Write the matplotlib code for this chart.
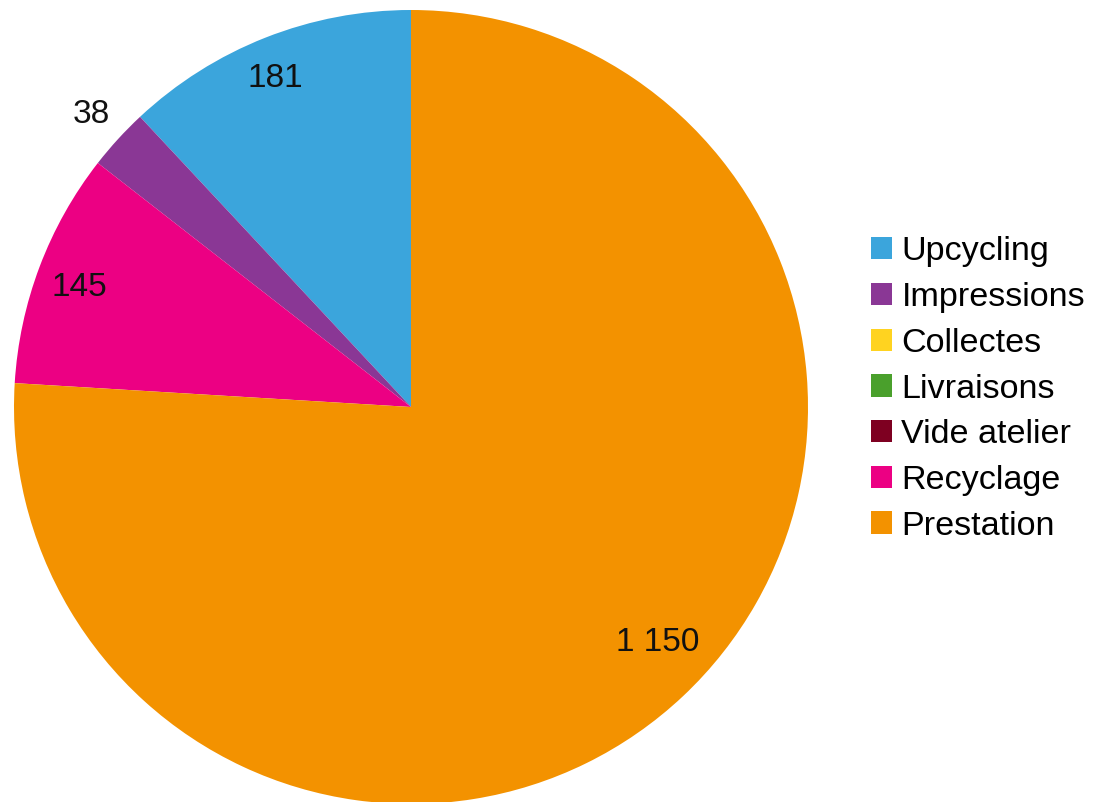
import numpy as np
import matplotlib
matplotlib.use('Agg')
import matplotlib.pyplot as plt
from matplotlib.patches import Patch

plt.rcParams['font.family'] = ['Liberation Sans', 'DejaVu Sans']

# Data
categories = ['Upcycling', 'Impressions', 'Collectes', 'Livraisons',
              'Vide atelier', 'Recyclage', 'Prestation']
values = [181, 38, 0, 0, 0, 145, 1150]
value_labels = ['181', '38', '', '', '', '145', '1 150']
colors = ['#3BA5DC', '#8A3795', '#FFD320', '#4AA02C', '#7E0021',
          '#EC0083', '#F39200']

fig = plt.figure(figsize=(10.99, 8.02), dpi=100)
ax = fig.add_axes([14 / 1099, -2 / 802, 794 / 1099, 794 / 802])

wedges, _ = ax.pie(values, colors=colors, startangle=90, counterclock=True,
                   radius=1.0, wedgeprops=dict(linewidth=0))
ax.set_xlim(-1, 1)
ax.set_ylim(-1, 1)
ax.set_aspect('equal')
ax.axis('off')

# label distance / angle nudge per slice (small slice labelled outside)
label_r = [0.895, 1.09, 0, 0, 0, 0.887, 0.86]
label_shift = [1.0, 0.0, 0, 0, 0, 0.8, 3.0]
total = sum(values)
start = 90.0
for v, lab, r, sh in zip(values, value_labels, label_r, label_shift):
    span = v / total * 360.0
    if v > 0:
        mid = np.deg2rad(start + span / 2 + sh)
        ax.text(r * np.cos(mid), r * np.sin(mid), lab, ha='center',
                va='center', fontsize=24, color='#111111')
    start += span

handles = [Patch(facecolor=c, edgecolor='none') for c in colors]
fig.legend(handles, categories, loc='center left',
           bbox_to_anchor=(871 / 1099, 1 - 389 / 802), frameon=False,
           fontsize=24.6, handlelength=0.62, handleheight=0.62,
           handletextpad=0.27, labelspacing=0.43, borderpad=0,
           borderaxespad=0)

fig.savefig('out.png', dpi=100)
